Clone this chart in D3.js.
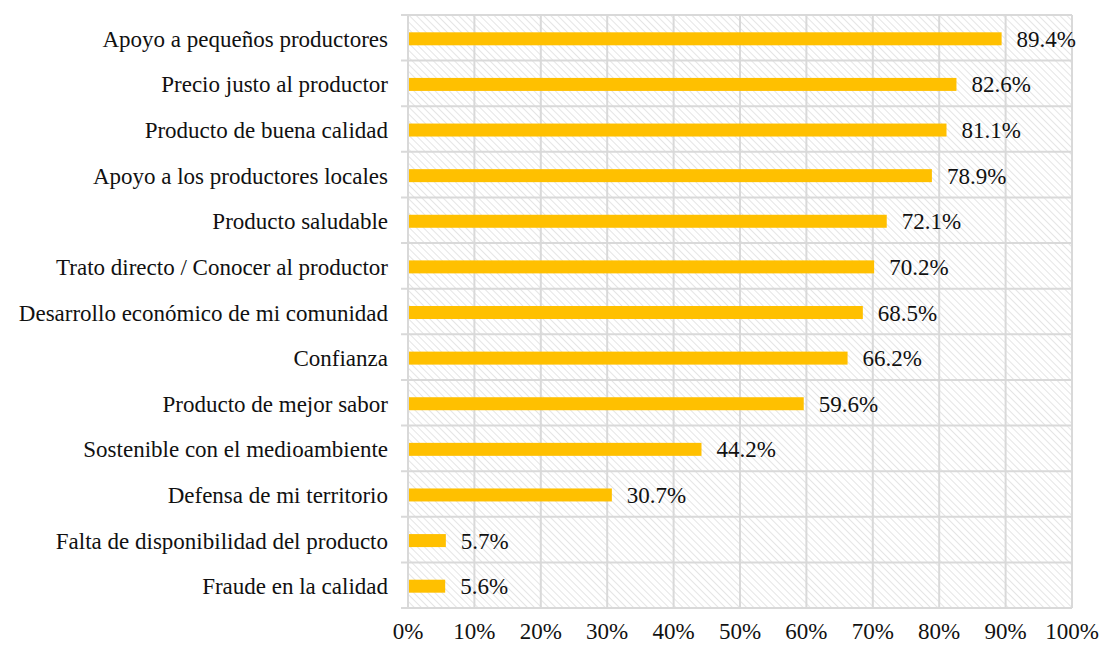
<!DOCTYPE html>
<html>
<head>
<meta charset="utf-8">
<script src="https://cdn.jsdelivr.net/npm/d3@7"></script>
<style>
  body { margin: 0; background: #fff; }
</style>
</head>
<body>
<svg id="chart" width="1101" height="645"></svg>
<script>
// categories top to bottom
var categories = [
    "Apoyo a pequeños productores",
    "Precio justo al productor",
    "Producto de buena calidad",
    "Apoyo a los productores locales",
    "Producto saludable",
    "Trato directo / Conocer al productor",
    "Desarrollo económico de mi comunidad",
    "Confianza",
    "Producto de mejor sabor",
    "Sostenible con el medioambiente",
    "Defensa de mi territorio",
    "Falta de disponibilidad del producto",
    "Fraude en la calidad"
];
var values = [89.4, 82.6, 81.1, 78.9, 72.1, 70.2, 68.5, 66.2, 59.6, 44.2, 30.7, 5.7, 5.6];
var tickValues = [0, 10, 20, 30, 40, 50, 60, 70, 80, 90, 100];

var fontFam = "'Liberation Serif', 'Times New Roman', serif";
var fontSize = "23px";

var margin = {top: 15, right: 29, bottom: 37, left: 408};
var width = 1101 - margin.left - margin.right,
    height = 645 - margin.top - margin.bottom;

var svg = d3.select("#chart");

// hatch pattern for plot background
var defs = svg.append("defs");
var pat = defs.append("pattern")
    .attr("id", "hatch")
    .attr("patternUnits", "userSpaceOnUse")
    .attr("width", 5)
    .attr("height", 5)
    .attr("patternTransform", "rotate(-45)");
pat.append("line")
    .attr("x1", 0).attr("y1", 0)
    .attr("x2", 0).attr("y2", 5)
    .attr("stroke", "#d4d4d4")
    .attr("stroke-width", 1.2);

var g = svg.append("g")
    .attr("transform", "translate(" + margin.left + "," + margin.top + ")");

var x = d3.scaleLinear().domain([0, 100]).range([0, width]);
var y = d3.scaleBand().domain(categories).range([0, height]).paddingInner(0).paddingOuter(0);

g.append("rect")
    .attr("width", width)
    .attr("height", height)
    .attr("fill", "url(#hatch)");

// vertical grid
g.selectAll(".vgrid")
    .data(tickValues)
    .enter().append("line")
    .attr("x1", function (d) { return x(d); })
    .attr("x2", function (d) { return x(d); })
    .attr("y1", 0)
    .attr("y2", height)
    .attr("stroke", "#d9d9d9")
    .attr("stroke-width", 2);

// horizontal grid at category borders
var borders = categories.map(function (c) { return y(c); });
borders.push(height);
g.selectAll(".hgrid")
    .data(borders)
    .enter().append("line")
    .attr("x1", -7)
    .attr("x2", width)
    .attr("y1", function (d) { return d; })
    .attr("y2", function (d) { return d; })
    .attr("stroke", "#d9d9d9")
    .attr("stroke-width", 2);

// bars
var barH = 13;
g.selectAll(".bar")
    .data(values)
    .enter().append("rect")
    .attr("x", x(0) + 1)
    .attr("y", function (d, i) { return y(categories[i]) + y.bandwidth() / 2 - barH / 2 + 1; })
    .attr("width", function (d) { return x(d) - x(0) - 1; })
    .attr("height", barH)
    .attr("fill", "#ffc000");

// value labels
g.selectAll(".val")
    .data(values)
    .enter().append("text")
    .attr("x", function (d) { return x(d) + 15; })
    .attr("y", function (d, i) { return y(categories[i]) + y.bandwidth() / 2 + 9; })
    .attr("font-family", fontFam)
    .attr("font-size", fontSize)
    .attr("fill", "#111")
    .text(function (d) { return d.toFixed(1) + "%"; });

// category labels
g.selectAll(".cat")
    .data(categories)
    .enter().append("text")
    .attr("x", -20)
    .attr("y", function (d) { return y(d) + y.bandwidth() / 2 + 9; })
    .attr("text-anchor", "end")
    .attr("font-family", fontFam)
    .attr("font-size", fontSize)
    .attr("fill", "#111")
    .text(function (d) { return d; });

// x tick labels
g.selectAll(".tick-label")
    .data(tickValues)
    .enter().append("text")
    .attr("x", function (d) { return x(d); })
    .attr("y", height + 31)
    .attr("text-anchor", "middle")
    .attr("font-family", fontFam)
    .attr("font-size", fontSize)
    .attr("fill", "#111")
    .text(function (d) { return d + "%"; });
</script>
</body>
</html>
